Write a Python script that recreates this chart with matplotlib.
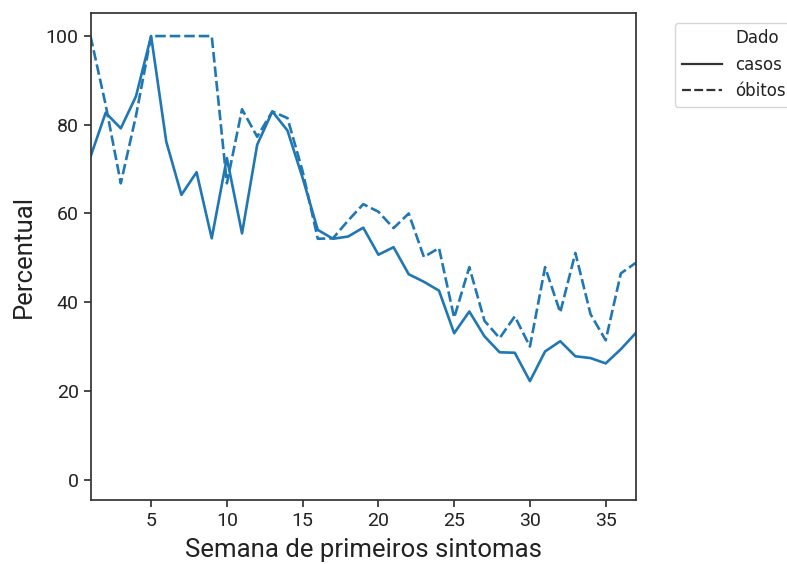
import matplotlib
matplotlib.use("Agg")
import matplotlib.pyplot as plt
from matplotlib.lines import Line2D

semanas = list(range(1, 38))
casos = [72.8, 82.7, 79.2, 86.4, 100.0, 76.2, 64.2, 69.3, 54.4, 72.5,
         55.5, 75.5, 83.0, 78.7, 68.0, 56.3, 54.3, 54.8, 56.8, 50.7,
         52.4, 46.3, 44.6, 42.6, 33.0, 37.9, 32.3, 28.7, 28.6, 22.2,
         28.9, 31.2, 27.8, 27.4, 26.2, 29.4, 33.1]
obitos = [100.0, 84.5, 66.8, 82.0, 100.0, 100.0, 100.0, 100.0, 100.0, 66.8,
          83.5, 77.3, 83.0, 81.5, 69.5, 54.3, 54.4, 58.4, 62.1, 60.4,
          56.7, 60.0, 50.2, 52.2, 36.5, 47.9, 35.8, 31.9, 36.8, 30.0,
          47.9, 37.7, 51.1, 37.3, 31.4, 46.5, 48.9]

legend_title = "Dado"
legend_labels = ["casos", "óbitos"]
xlabel = "Semana de primeiros sintomas"
ylabel = "Percentual"

color = "#1f77b4"
spine_col = "#333333"

plt.rcParams["font.family"] = ["DejaVu Sans"]
fig = plt.figure(figsize=(7.87, 5.64), dpi=100)
ax = fig.add_axes([90.5/787, 1 - 500/564, (636 - 90.5)/787, (500 - 13)/564])

ax.plot(semanas, casos, color=color, lw=1.9, linestyle="-")
ax.plot(semanas, obitos, color=color, lw=1.9, dashes=(4, 1.5))

ax.set_xlim(1, 37)
ax.set_ylim(-4.6, 105.2)
ax.set_xticks([5, 10, 15, 20, 25, 30, 35])
ax.set_yticks([0, 20, 40, 60, 80, 100])

for s in ax.spines.values():
    s.set_color(spine_col)
    s.set_linewidth(1.25)
ax.tick_params(axis="both", colors=spine_col, labelcolor="#222222", width=1.25, length=5, labelsize=14)
for lab in ax.get_xticklabels() + ax.get_yticklabels():
    lab.set_fontfamily("Roboto")

ax.set_xlabel(xlabel, fontsize=18.5, family="Roboto", color="#222222", labelpad=6)
ax.set_ylabel(ylabel, fontsize=18.5, family="Roboto", color="#222222", labelpad=7)

handles = [Line2D([], [], color="none"),
           Line2D([], [], color="#333333", lw=1.6, linestyle="-"),
           Line2D([], [], color="#333333", lw=1.6, dashes=(4, 1.5))]
labels = [legend_title] + legend_labels
leg = ax.legend(handles, labels, loc="upper left", bbox_to_anchor=(1.0715, 0.98),
                borderaxespad=0, handlelength=2.4, handletextpad=0.8,
                frameon=True, fontsize=12)
for t in leg.get_texts():
    t.set_fontfamily("DejaVu Sans")
    t.set_fontsize(12)
    t.set_color("#222222")
leg.get_frame().set_edgecolor("#cccccc")

fig.savefig("out.png", dpi=100)
